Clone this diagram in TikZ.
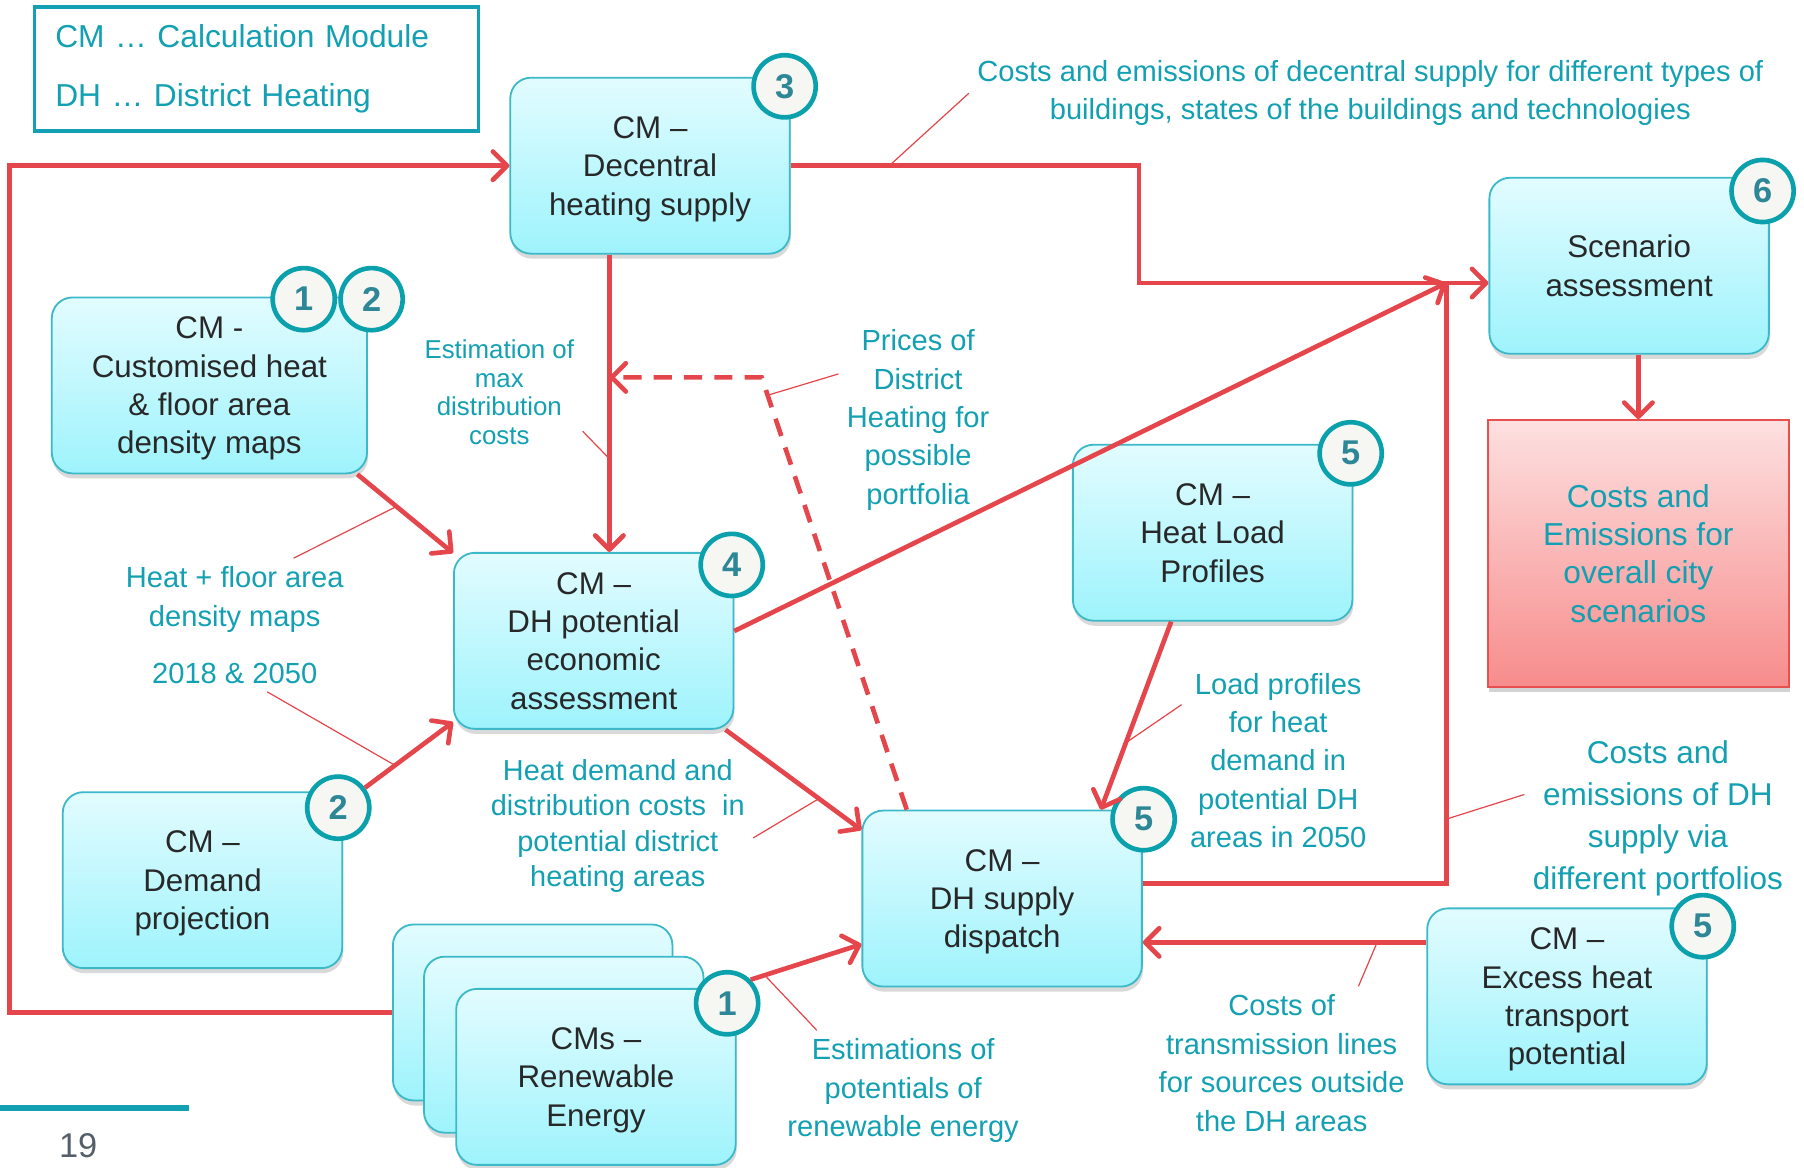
\documentclass[tikz,border=0pt]{standalone}
\usepackage{fontspec}
\setmainfont{Liberation Sans}
\usetikzlibrary{arrows.meta,shadows}

\definecolor{cmred}{RGB}{228,70,75}
\definecolor{cmteal}{RGB}{18,160,178}
\definecolor{boxline}{RGB}{60,185,200}
\definecolor{boxtop}{RGB}{226,252,255}
\definecolor{boxbot}{RGB}{158,243,252}
\definecolor{boxtext}{RGB}{40,40,40}
\definecolor{badgeline}{RGB}{10,160,172}
\definecolor{badgefill}{RGB}{246,246,243}
\definecolor{badgetext}{RGB}{45,135,150}
\definecolor{redtop}{RGB}{253,224,224}
\definecolor{redbot}{RGB}{247,140,140}
\definecolor{redline}{RGB}{232,80,80}
\definecolor{pagegray}{RGB}{85,95,105}

\begin{document}
\begin{tikzpicture}[x=0.02cm,y=-0.02cm,
    cmbox/.style={draw=boxline,line width=0.9pt,rounded corners=0.36cm,top color=boxtop,bottom color=boxbot,minimum width=4.86cm,minimum height=3.06cm,align=center,text depth=0pt,text=boxtext,font=\fontsize{15.5}{19}\selectfont,drop shadow={opacity=0.3,shadow xshift=0.5pt,shadow yshift=-2.5pt}},
    badge/.style={circle,draw=badgeline,line width=2.3pt,fill=badgefill,minimum size=1.08cm,inner sep=0pt,text=badgetext,font=\fontsize{17}{17}\selectfont\bfseries},
    lbl/.style={text=cmteal,align=center,inner sep=4pt,font=\fontsize{14.4}{19}\selectfont},
    line/.style={cmred,line width=2.3pt},
    arr/.style={line,-{Straight Barb[length=7pt,width=14pt,round]}},
    ptr/.style={cmred,line width=0.6pt}]
    \useasboundingbox(0,0)rectangle(1568,1015);

    \node[draw=cmteal,line width=1.7pt,minimum width=7.72cm,minimum height=2.16cm,text width=7cm,align=left,text=cmteal,font=\fontsize{15.7}{29}\selectfont](leg)at(223,60){CM … Calculation Module\\DH … District Heating};

    \node[cmbox](cm3)at(565,144){CM –\\Decentral\\heating supply};
    \node[cmbox,minimum width=5.48cm](cm1)at(182,335){CM -\\Customised heat\\\& floor area\\density maps};
    \node[cmbox](cm4)at(516,557){CM –\\DH potential\\economic\\assessment};
    \node[cmbox](cm2)at(176,765){CM –\\Demand\\projection};
    \node[cmbox](re1)at(463,880){};
    \node[cmbox](re2)at(490,908){};
    \node[cmbox](re3)at(518,936){CMs –\\Renewable\\Energy};
    \node[cmbox](cm5d)at(871,781){CM –\\DH supply\\dispatch};
    \node[cmbox](cm5h)at(1054,463){CM –\\Heat Load\\Profiles};
    \node[cmbox](cm6)at(1416,231){Scenario\\assessment};
    \node[cmbox](cm5e)at(1362,866){CM –\\Excess heat\\transport\\potential};
    \node[draw=redline,line width=0.9pt,top color=redtop,bottom color=redbot,minimum width=5.24cm,minimum height=4.64cm,align=center,text=cmteal,font=\fontsize{15.7}{19}\selectfont,drop shadow={opacity=0.35,shadow xshift=0.5pt,shadow yshift=-2.5pt}](cr)at(1424,481){Costs and\\Emissions for\\overall city\\scenarios};

    \node[badge](b3)at(682,75){3};
    \node[badge](b1a)at(264,260){1};
    \node[badge](b2a)at(323,260){2};
    \node[badge](b4)at(636,491){4};
    \node[badge](b2d)at(294,702){2};
    \node[badge](b1r)at(632,872){1};
    \node[badge](b5h)at(1174,394){5};
    \node[badge](b5d)at(994,712){5};
    \node[badge](b6)at(1532,166){6};
    \node[badge](b5e)at(1480,805){5};

    \node[lbl](l1)at(1191,81){Costs and emissions of decentral supply for different types of\\buildings, states of the buildings and technologies};
    \node[lbl,font=\fontsize{12.8}{14.2}\selectfont](l2)at(434,341){Estimation of\\max\\distribution\\costs};
    \node[lbl](l3)at(798,365){Prices of\\District\\Heating for\\possible\\portfolia};
    \node[lbl](l4)at(204,521){Heat + floor area\\density maps};
    \node[lbl](l5)at(204,585){2018 \& 2050};
    \node[lbl,font=\fontsize{14.3}{17.6}\selectfont](l6)at(537,718){Heat demand and\\distribution costs~~in\\potential district\\heating areas};
    \node[lbl](l7)at(1111,661){Load profiles\\for heat\\demand in\\potential DH\\areas in 2050};
    \node[lbl,font=\fontsize{15.6}{20.8}\selectfont](l8)at(1441,711){Costs and\\emissions of DH\\supply via\\different portfolios};
    \node[lbl](l9)at(1114,924){Costs of\\transmission lines\\for sources outside\\the DH areas};
    \node[lbl](l10)at(785,948){Estimations of\\potentials of\\renewable energy};

    \coordinate(lp)at(8,880);
    \coordinate(bend)at(990,246);
    \coordinate(jt)at(1257,246);
    \coordinate(pk)at(662,328);

    \draw[arr](re1.west)--(lp)|-(cm3.west);
    \draw[arr](cm3.east)-|(bend)--(bend-|cm6.west);
    \draw[arr](cm3.south-|cm4.80)--(cm4.80);
    \draw[arr,dash pattern=on 9pt off 6pt](cm5d.137)--(pk)--(pk-|cm4.80);
    \draw[arr](cm1.-31)--(cm4.148);
    \draw[arr](b2d)--(cm4.210);
    \draw[arr](cm4.4)--(jt);
    \draw[line](cm5d.6)-|(jt);
    \draw[arr](cm4.-34)--(cm5d.154);
    \draw[arr](b1r.45)--(cm5d.198);
    \draw[arr](cm5h.245)--(cm5d.42);
    \draw[arr](cm5e.159)--(cm5e.159-|cm5d.east);
    \draw[arr](cm6.south-|cr.north)--(cr.north);

    \coordinate(p1)at(773,144);
    \coordinate(p2)at(528,397);
    \coordinate(p3)at(669,343);
    \coordinate(p4)at(345,440);
    \coordinate(p5)at(343,665);
    \coordinate(p6)at(712,694);
    \coordinate(p7)at(978,646);
    \coordinate(p8)at(1257,712);
    \coordinate(p9)at(1197,819);
    \coordinate(p10)at(665,848);
    \draw[ptr](l1.west)--(p1);
    \draw[ptr](l2.-25)--(p2);
    \draw[ptr](l3.150)--(p3);
    \draw[ptr](l4.35)--(p4);
    \draw[ptr](l5.-30)--(p5);
    \draw[ptr](l6.-5)--(p6);
    \draw[ptr](l7.150)--(p7);
    \draw[ptr](l8.170)--(p8);
    \draw[ptr](l9.45)--(p9);
    \draw[ptr](l10.145)--(p10);

    \node[text=pagegray,font=\fontsize{17}{17}\selectfont](pg)at(68,996){19};
    \draw[cmteal,line width=0.1cm](0,963)--(164,963);
\end{tikzpicture}
\end{document}
